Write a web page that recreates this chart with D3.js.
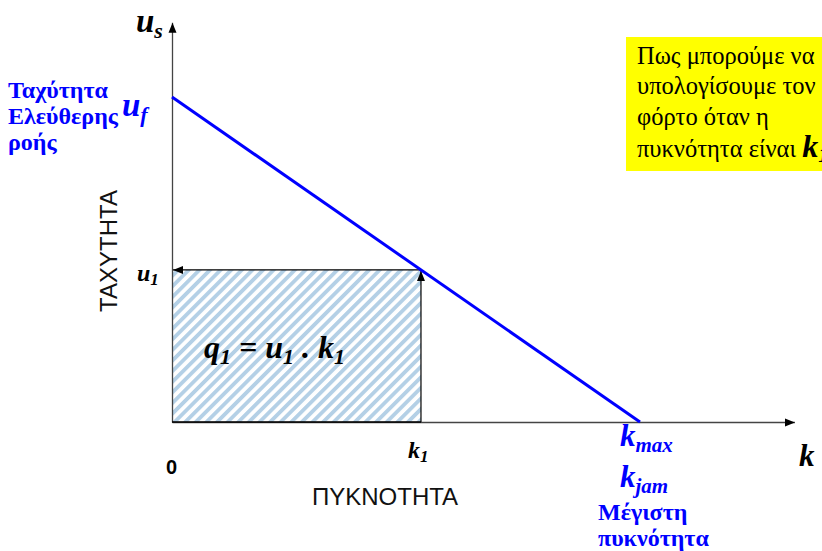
<!DOCTYPE html>
<html>
<head>
<meta charset="utf-8">
<script src="https://cdn.jsdelivr.net/npm/d3@7"></script>
<style>
  body { margin: 0; background: #fff; }
</style>
</head>
<body>
<div id="content"></div>
<script>
// Greenshields model, values (normalised to 100).
var kJam = 100;          // jam density
var uFree = 100;         // free-flow speed
var k1 = 53.2;           // chosen density
var u1 = 46.8;           // speed at k1
var axisMax = {k: 133, u: 123};

// Speed-density line points.
var lineData = [{k: 0, u: uFree}, {k: kJam, u: 0}];

var leftLabels = ["Ταχύτητα", "Ελεύθερης", "ροής"];
var jamLabels = ["Μέγιστη", "πυκνότητα"];
var boxLines = ["Πως μπορούμε να", "υπολογίσουμε τον", "φόρτο όταν η", "πυκνότητα είναι "];

var SERIF = '"Liberation Serif"';
var SANS = '"Liberation Sans"';

var width = 822, height = 551;
var svg = d3.select('#content').append('svg')
    .attr('width', width).attr('height', height);

var x = d3.scaleLinear().domain([0, kJam]).range([172, 640]);
var y = d3.scaleLinear().domain([0, uFree]).range([422, 97]);

var defs = svg.append('defs');
var pat = defs.append('pattern')
    .attr('id', 'hatch').attr('patternUnits', 'userSpaceOnUse')
    .attr('width', 7.5).attr('height', 7.5)
    .attr('patternTransform', 'rotate(45)');
pat.append('rect').attr('width', 7.5).attr('height', 7.5).attr('fill', '#fff');
pat.append('rect').attr('width', 3.8).attr('height', 7.5).attr('fill', '#b4d0e6');

function arrow(id) {
  defs.append('marker').attr('id', id)
      .attr('viewBox', '0 0 10 10').attr('refX', 10).attr('refY', 5)
      .attr('markerWidth', 10).attr('markerHeight', 10)
      .attr('markerUnits', 'userSpaceOnUse')
      .attr('orient', 'auto')
    .append('path').attr('d', 'M0,1 L10,5 L0,9 Z').attr('fill', '#000');
}
arrow('arr');

// Hatched flow rectangle.
svg.append('rect')
    .attr('x', x(0)).attr('y', y(u1))
    .attr('width', x(k1) - x(0)).attr('height', y(0) - y(u1))
    .attr('fill', 'url(#hatch)');

// Axes (domain lines only).
var xAxis = d3.axisBottom(d3.scaleLinear().domain([0, axisMax.k]).range([x(0), x(axisMax.k)]))
    .ticks(0).tickSizeOuter(0);
var yAxis = d3.axisLeft(d3.scaleLinear().domain([0, axisMax.u]).range([y(0), y(axisMax.u)]))
    .ticks(0).tickSizeOuter(0);
var gx = svg.append('g').attr('transform', 'translate(0,' + y(0) + ')').call(xAxis);
var gy = svg.append('g').attr('transform', 'translate(' + x(0) + ',0)').call(yAxis);
gx.select('.domain').attr('stroke', '#444').attr('stroke-width', 1.3).attr('marker-end', 'url(#arr)');
gy.select('.domain').attr('stroke', '#444').attr('stroke-width', 1.3).attr('marker-end', 'url(#arr)');

// Rectangle edges with arrows.
svg.append('line')
    .attr('x1', x(k1)).attr('y1', y(u1)).attr('x2', x(0) + 1).attr('y2', y(u1))
    .attr('stroke', '#000').attr('stroke-width', 1.2).attr('marker-end', 'url(#arr)');
svg.append('line')
    .attr('x1', x(k1)).attr('y1', y(0)).attr('x2', x(k1)).attr('y2', y(u1) + 1)
    .attr('stroke', '#000').attr('stroke-width', 1.2).attr('marker-end', 'url(#arr)');
svg.append('line')
    .attr('x1', x(0)).attr('y1', y(0)).attr('x2', x(k1)).attr('y2', y(0))
    .attr('stroke', '#000').attr('stroke-width', 1.3);

// Speed-density line.
svg.append('path').datum(lineData)
    .attr('d', d3.line().x(function(d) { return x(d.k); }).y(function(d) { return y(d.u); }))
    .attr('fill', 'none').attr('stroke', '#0000ff').attr('stroke-width', 3);

// Helper for symbol + subscript.
function sym(px, py, main, sub, size, subSize, color, dy) {
  var t = svg.append('text').style('font-family', SERIF)
      .attr('x', px).attr('y', py)
      .attr('font-weight', 'bold').attr('font-style', 'italic')
      .attr('font-size', size).attr('fill', color);
  t.append('tspan').text(main);
  t.append('tspan').attr('dy', dy).attr('font-size', subSize).text(sub);
  return t;
}

sym(136, 32, 'u', 's', 33, 22, '#000', 6);
sym(122, 116, 'u', 'f', 33, 22, '#0000ff', 6);
sym(137, 281, 'u', '1', 24, 17, '#000', 4);
sym(408, 458, 'k', '1', 24, 17, '#000', 4);
sym(799, 466, 'k', '', 31, 20, '#000', 0);
sym(620, 446, 'k', 'max', 31, 21, '#0000ff', 6);
sym(620, 487, 'k', 'jam', 31, 21, '#0000ff', 6);

// Formula q1 = u1 . k1
var f = svg.append('text').style('font-family', SERIF)
    .attr('x', 204).attr('y', 358)
    .attr('font-weight', 'bold').attr('font-style', 'italic')
    .attr('font-size', 32).attr('fill', '#000');
f.append('tspan').text('q');
f.append('tspan').attr('dy', 6).attr('font-size', 22).text('1');
f.append('tspan').attr('dy', -6).text(' = u');
f.append('tspan').attr('dy', 6).attr('font-size', 22).text('1');
f.append('tspan').attr('dy', -6).text(' . k');
f.append('tspan').attr('dy', 6).attr('font-size', 22).text('1');

// Left blue labels.
svg.selectAll('.leftlab').data(leftLabels).enter().append('text')
    .style('font-family', SERIF).attr('x', 8)
    .attr('y', function(d, i) { return 98 + i * 26; })
    .attr('font-weight', 'bold').attr('font-size', 24).attr('fill', '#0000ff')
    .text(function(d) { return d; });

svg.selectAll('.jamlab').data(jamLabels).enter().append('text')
    .style('font-family', SERIF).attr('x', 598)
    .attr('y', function(d, i) { return 520 + i * 26; })
    .attr('font-weight', 'bold').attr('font-size', 24).attr('fill', '#0000ff')
    .text(function(d) { return d; });

// Axis titles.
svg.append('text').style('font-family', SANS)
    .attr('transform', 'translate(117,251) rotate(-90)')
    .attr('text-anchor', 'middle').attr('font-size', 24).attr('fill', '#111')
    .text('ΤΑΧΥΤΗΤΑ');
svg.append('text').style('font-family', SANS)
    .attr('x', 385).attr('y', 505).attr('text-anchor', 'middle')
    .attr('font-size', 24).attr('fill', '#111')
    .text('ΠΥΚΝΟΤΗΤΑ');
svg.append('text').style('font-family', SANS)
    .attr('x', 166).attr('y', 474)
    .attr('font-weight', 'bold').attr('font-size', 20).attr('fill', '#000')
    .text('0');

// Yellow question box.
svg.append('rect').attr('x', 626).attr('y', 37).attr('width', 200).attr('height', 134)
    .attr('fill', '#ffff00');
var bt = svg.selectAll('.boxline').data(boxLines).enter().append('text')
    .style('font-family', SERIF).attr('x', 637)
    .attr('y', function(d, i) { return [64, 94, 125, 157][i]; })
    .attr('font-size', 24.5).attr('fill', '#000')
    .text(function(d) { return d; });
bt.filter(function(d, i) { return i === 3; })
  .append('tspan').attr('font-weight', 'bold').attr('font-style', 'italic')
    .attr('font-size', 32).text('k')
  .clone(true).text('1').attr('font-size', 21).attr('dy', 5);
</script>
</body>
</html>
